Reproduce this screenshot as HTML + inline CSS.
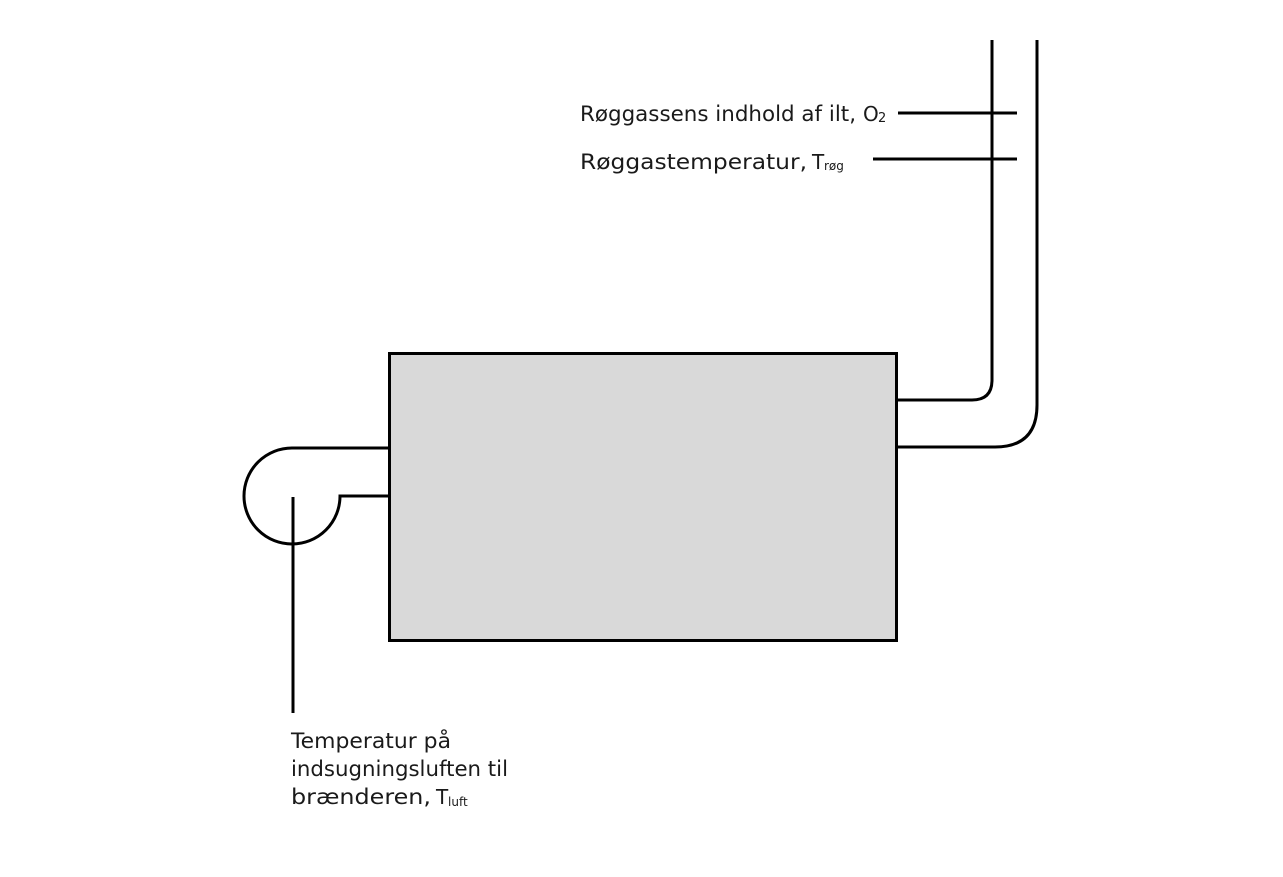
<!DOCTYPE html>
<html><head><meta charset="utf-8"><style>
html,body{margin:0;padding:0;background:#fff;width:1283px;height:877px;overflow:hidden}
svg{display:block}
text{font-family:"DejaVu Sans","Liberation Sans",sans-serif;fill:#1a1a1a}
</style></head><body>
<svg width="1283" height="877" viewBox="0 0 1283 877">
<rect x="389.5" y="353.5" width="507" height="287" fill="#d9d9d9" stroke="#000" stroke-width="3"/>
<g fill="none" stroke="#000" stroke-width="3">
<path d="M992 40 V380 Q992 400 972 400 H898"/>
<path d="M1037 40 V405 Q1037 447 995 447 H898"/>
<path d="M388 448 H292 A48 48 0 1 0 340 496 H388"/>
<path d="M293 497 V713"/>
<path d="M898 113 H1017"/>
<path d="M873 159 H1017"/>
</g>
<text x="580" y="121" font-size="21" textLength="276" lengthAdjust="spacingAndGlyphs">Røggassens indhold af ilt,</text>
<text x="863" y="121" font-size="20">O</text><text x="878" y="122" font-size="13">2</text>
<text x="580" y="169" font-size="21" textLength="227" lengthAdjust="spacingAndGlyphs">Røggastemperatur,</text>
<text x="812" y="169" font-size="20">T</text><text x="824" y="170" font-size="12">røg</text>
<text x="291" y="748" font-size="21" textLength="160" lengthAdjust="spacingAndGlyphs">Temperatur på</text>
<text x="291" y="776" font-size="21" textLength="217" lengthAdjust="spacingAndGlyphs">indsugningsluften til</text>
<text x="291" y="804" font-size="21" textLength="140" lengthAdjust="spacingAndGlyphs">brænderen,</text>
<text x="436" y="804" font-size="20">T</text><text x="448" y="806" font-size="12">luft</text>
</svg>
</body></html>
